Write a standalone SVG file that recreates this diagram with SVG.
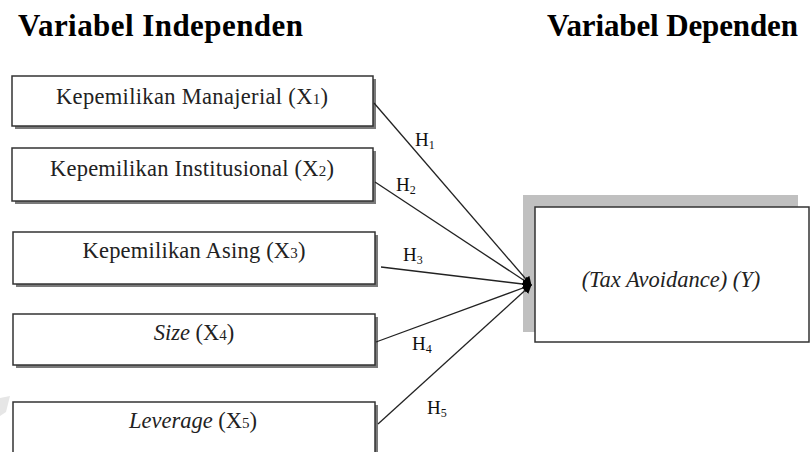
<svg xmlns="http://www.w3.org/2000/svg" width="810" height="452" viewBox="0 0 810 452">
<style>
.title{font-family:"Liberation Serif","Times New Roman",serif;font-weight:bold;font-size:31px;fill:#000}
.lbl{font-family:"Liberation Serif","Times New Roman",serif;font-size:22.5px;fill:#222;text-anchor:middle}
.sub{font-size:15px}
.box{fill:#fff;stroke:#333;stroke-width:1.5}
.shadow{fill:#7a7a7a}
.conn line{stroke:#222;stroke-width:1.3;marker-end:url(#ah)}
.h{font-family:"Liberation Serif","Times New Roman",serif;font-size:19px;fill:#111}
.hs{font-size:12px}
</style>
<defs>
<marker id="ah" viewBox="0 0 10 10" refX="9" refY="5" markerWidth="9" markerHeight="12" markerUnits="userSpaceOnUse" orient="auto" preserveAspectRatio="none">
<path d="M0,1 L10,5 L0,9 z" fill="#000"/>
</marker>
</defs>
<rect width="810" height="452" fill="#fff"/>
<path d="M0,398 L10,396 L6,412 L0,416 z" fill="#e6e6e6"/>
<text class="title" x="18" y="36" textLength="285" lengthAdjust="spacing">Variabel Independen</text>
<text class="title" x="547" y="36" textLength="251" lengthAdjust="spacing">Variabel Dependen</text>
<g id="x1">
<rect class="shadow" x="15" y="79" width="361" height="50"/>
<rect class="box" x="12" y="76" width="361" height="50"/>
<text class="lbl" x="192" y="104" textLength="272" lengthAdjust="spacing">Kepemilikan Manajerial (X<tspan class="sub">1</tspan>)</text>
</g>
<g id="x2">
<rect class="shadow" x="15" y="151" width="361" height="53"/>
<rect class="box" x="12" y="148" width="361" height="53"/>
<text class="lbl" x="192" y="176" textLength="284" lengthAdjust="spacing">Kepemilikan Institusional (X<tspan class="sub">2</tspan>)</text>
</g>
<g id="x3">
<rect class="shadow" x="16" y="235" width="362" height="52"/>
<rect class="box" x="13" y="232" width="362" height="52"/>
<text class="lbl" x="194" y="258" textLength="223" lengthAdjust="spacing">Kepemilikan Asing (X<tspan class="sub">3</tspan>)</text>
</g>
<g id="x4">
<rect class="shadow" x="16" y="317" width="362" height="51"/>
<rect class="box" x="13" y="314" width="362" height="51"/>
<text class="lbl" x="194" y="340"><tspan font-style="italic">Size</tspan> (X<tspan class="sub">4</tspan>)</text>
</g>
<g id="x5">
<rect class="shadow" x="16" y="405" width="362" height="60"/>
<rect class="box" x="13" y="402" width="362" height="60"/>
<text class="lbl" x="193" y="428"><tspan font-style="italic">Leverage</tspan> (X<tspan class="sub">5</tspan>)</text>
</g>
<g id="y">
<rect x="523" y="195" width="275" height="137" fill="#c0c0c0"/>
<rect class="box" x="535" y="207" width="274" height="135"/>
<text class="lbl" x="671" y="287" font-style="italic">(Tax Avoidance) (Y)</text>
</g>
<g class="conn" id="connectors">
<line x1="374" y1="103" x2="531" y2="285"/>
<line x1="375" y1="182" x2="531" y2="285"/>
<line x1="381" y1="267" x2="531" y2="285"/>
<line x1="376" y1="342" x2="531" y2="285"/>
<line x1="378" y1="424" x2="531" y2="285"/>
</g>
<g id="labels">
<text class="h" x="415" y="146">H<tspan class="hs" dy="3">1</tspan></text>
<text class="h" x="396" y="191">H<tspan class="hs" dy="3">2</tspan></text>
<text class="h" x="403" y="261">H<tspan class="hs" dy="3">3</tspan></text>
<text class="h" x="412" y="350">H<tspan class="hs" dy="3">4</tspan></text>
<text class="h" x="427" y="414">H<tspan class="hs" dy="3">5</tspan></text>
</g>
</svg>
